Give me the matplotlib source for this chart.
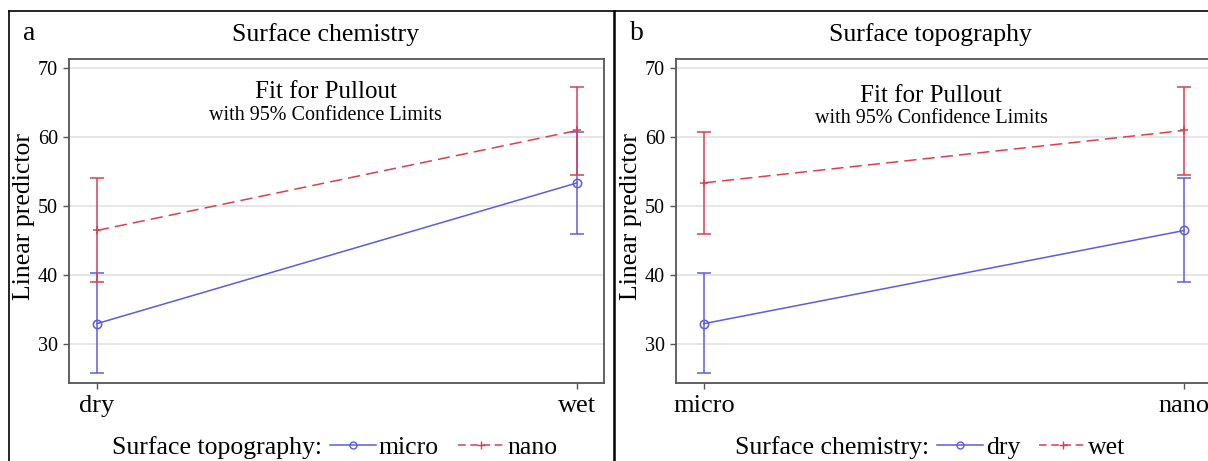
import matplotlib.pyplot as plt
from matplotlib.lines import Line2D

# panel a: x = surface chemistry, series = surface topography
chem = ["dry", "wet"]
micro_fit = [33.0, 53.4]
micro_lo = [25.8, 46.0]
micro_hi = [40.4, 60.8]
nano_fit = [46.5, 61.0]
nano_lo = [39.0, 54.5]
nano_hi = [54.1, 67.3]

# panel b: x = surface topography, series = surface chemistry
topo = ["micro", "nano"]
dry_fit = [33.0, 46.5]
dry_lo = [25.8, 39.0]
dry_hi = [40.4, 54.1]
wet_fit = [53.4, 61.0]
wet_lo = [46.0, 54.5]
wet_hi = [60.8, 67.3]

y_ticks = [30, 40, 50, 60, 70]

BLUE = "#5c5ce0"
RED = "#d9404f"
FRAME = "#555555"
SERIF = ["Liberation Serif", "DejaVu Serif"]

plt.rcParams["font.family"] = SERIF


def draw_series(ax, fit, lo, hi, color, ls, marker, mfc):
    x = list(range(len(fit)))
    yerr = [[f - l for f, l in zip(fit, lo)], [h - f for f, h in zip(fit, hi)]]
    ax.errorbar(x, fit, yerr=yerr, fmt="none", ecolor=color, elinewidth=1.1,
                capsize=5, capthick=1.1, zorder=3)
    ax.plot(x, fit, color=color, ls=ls, lw=1.1, marker=marker, ms=6,
            mfc=mfc, mec=color, mew=1.1, zorder=4,
            dashes=(8, 4) if ls == "--" else (None, None))


def panel(fig, left, cats, s1, s2, title, letter, legend_title, names, text_pos):
    ax = fig.add_axes([left, 0.1692, 0.4429, 0.7028])
    draw_series(ax, *s1, BLUE, "-", "o", "none")
    draw_series(ax, *s2, RED, "--", "+", RED)
    ax.set_xlim(-0.058, 1.056)
    ax.set_ylim(24.4, 71.35)
    ax.set_xticks(range(len(cats)))
    ax.set_xticklabels(cats)
    ax.set_yticks(y_ticks)
    ax.yaxis.grid(True, color="#e4e4e4", lw=1.3)
    ax.set_axisbelow(True)
    for sp in ax.spines.values():
        sp.set_color(FRAME)
        sp.set_linewidth(1.3)
    ax.tick_params(axis="y", labelsize=14.5, length=4, width=1, color=FRAME, pad=4)
    ax.tick_params(axis="x", labelsize=19, length=4, width=1, color=FRAME, pad=5)

    x0 = left * 1208
    fig.text((x0 - 45) / 1208, 1 - 216 / 461, "Linear predictor", rotation=90,
             ha="center", va="center", fontsize=18.5)
    fig.text((x0 + text_pos[0]) / 1208, 1 - 35 / 461, title, ha="center",
             va="center", fontsize=18.5)
    fig.text((x0 - 46) / 1208, 1 - 33 / 461, letter, ha="left", va="center",
             fontsize=20)
    ax.text(text_pos[1], text_pos[2], "Fit for Pullout", transform=ax.transAxes,
            ha="center", va="center", fontsize=18)
    ax.text(text_pos[1], text_pos[2] - 0.071, "with 95% Confidence Limits",
            transform=ax.transAxes, ha="center", va="center", fontsize=14.5)

    fig.text((x0 + text_pos[3]) / 1208, 0.030, legend_title, ha="right",
             va="center", fontsize=18.5)
    handles = [
        Line2D([], [], color=BLUE, lw=1.1, marker="o", ms=5, mfc="none", mec=BLUE),
        Line2D([], [], color=RED, lw=1.1, ls="--", marker="+", ms=6, mec=RED,
               dashes=(5, 3)),
    ]
    fig.legend(handles, names, loc="center left", ncol=2, frameon=False,
               bbox_to_anchor=((x0 + text_pos[3] + 8) / 1208, 0.030),
               fontsize=18.5, handlelength=1.8, handletextpad=0.1,
               columnspacing=0.75, borderaxespad=0, borderpad=0)
    return ax


fig = plt.figure(figsize=(12.08, 4.61), dpi=100)

panel(fig, 69 / 1208, chem, (micro_fit, micro_lo, micro_hi),
      (nano_fit, nano_lo, nano_hi), "Surface chemistry", "a",
      "Surface topography:", ["micro", "nano"], (257, 0.48, 0.897, 253))
panel(fig, 676 / 1208, topo, (dry_fit, dry_lo, dry_hi),
      (wet_fit, wet_lo, wet_hi), "Surface topography", "b",
      "Surface chemistry:", ["dry", "wet"], (254, 0.477, 0.887, 253))

# outer frame and panel divider
fig.add_artist(Line2D([9 / 1208, 1], [1 - 11 / 461] * 2, color="black", lw=1.2))
fig.add_artist(Line2D([9 / 1208] * 2, [0, 1 - 11 / 461], color="black", lw=1.2))
fig.add_artist(Line2D([614 / 1208] * 2, [0, 1 - 11 / 461], color="black", lw=1.8))

fig.savefig("out.png", dpi=100)
